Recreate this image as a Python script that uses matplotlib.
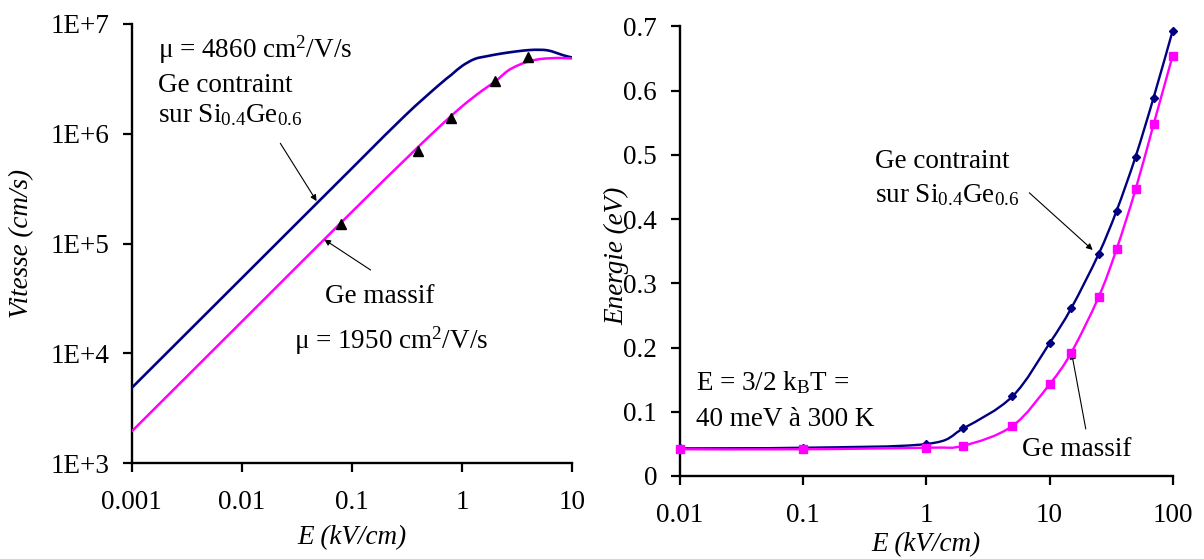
import numpy as np
import matplotlib
matplotlib.use('Agg')
import matplotlib.pyplot as plt
from matplotlib.path import Path
from matplotlib.patches import PathPatch
from matplotlib.ticker import FixedLocator, FixedFormatter, NullLocator

plt.rcParams['font.family'] = ['Liberation Serif', 'DejaVu Serif']
plt.rcParams['mathtext.fontset'] = 'custom'
plt.rcParams['mathtext.rm'] = 'Liberation Serif'
plt.rcParams['mathtext.it'] = 'Liberation Serif:italic'
plt.rcParams['mathtext.bf'] = 'Liberation Serif:bold'

# ---------------- data : left panel (velocity) ----------------
vit_E_contraint = [0.001, 0.01, 0.1, 0.3, 0.6, 0.8, 1.0, 1.3, 1.7, 2.2, 3, 4, 5, 6, 7, 8.5, 10]
vit_v_contraint = [4860, 48600, 486000, 1.45e6, 2.72e6, 3.45e6, 4.15e6, 4.8e6, 5.1e6, 5.35e6,
                   5.6e6, 5.78e6, 5.82e6, 5.75e6, 5.5e6, 5.15e6, 4.95e6]
vit_E_massif = [0.001, 0.01, 0.1, 0.3, 0.6, 1.0, 1.5, 2.0, 2.6, 3.3, 4, 5, 6.5, 8, 10]
vit_v_massif = [1950, 19500, 195000, 5.75e5, 1.12e6, 1.78e6, 2.45e6, 3.0e6, 3.75e6, 4.25e6,
                4.55e6, 4.78e6, 4.88e6, 4.9e6, 4.85e6]
vit_E_points = [0.08, 0.4, 0.8, 2, 4]
vit_v_points = [1.5e5, 7.0e5, 1.4e6, 3.0e6, 5.0e6]
vit_xticks = [0.001, 0.01, 0.1, 1, 10]
vit_xticklabels = ['0.001', '0.01', '0.1', '1', '10']
vit_yticks = [1e3, 1e4, 1e5, 1e6, 1e7]
vit_yticklabels = ['1E+3', '1E+4', '1E+5', '1E+6', '1E+7']

# ---------------- data : right panel (energy) ----------------
en_E = [0.01, 0.1, 1, 2, 5, 10, 15, 25, 35, 50, 70, 100]
en_contraint = [0.043, 0.044, 0.0498, 0.0743, 0.124, 0.2067, 0.2612, 0.3453, 0.4128, 0.4974, 0.5893, 0.6936]
en_massif = [0.0416, 0.0416, 0.0441, 0.0472, 0.0779, 0.1428, 0.192, 0.2783, 0.3531, 0.4466, 0.5478, 0.6547]
en_xticks = [0.01, 0.1, 1, 10, 100]
en_xticklabels = ['0.01', '0.1', '1', '10', '100']
en_yticks = [0, 0.1, 0.2, 0.3, 0.4, 0.5, 0.6, 0.7]
en_yticklabels = ['0', '0.1', '0.2', '0.3', '0.4', '0.5', '0.6', '0.7']

NAVY = '#000080'
MAGENTA = '#FF00FF'
FS = 19.5


def smooth_path(xs, ys, logy=False):
    """Catmull-Rom (Excel-like) smoothing in screen-linear space, as Bezier path."""
    u = np.log10(np.asarray(xs, float))
    y = np.asarray(ys, float)
    if logy:
        y = np.log10(y)
    P = np.column_stack([u, y])
    n = len(P)
    verts = [P[0]]
    codes = [Path.MOVETO]
    for i in range(n - 1):
        p0 = P[i - 1] if i > 0 else P[i]
        p1 = P[i]
        p2 = P[i + 1]
        p3 = P[i + 2] if i + 2 < n else P[i + 1]
        verts += [p1 + (p2 - p0) / 6.0, p2 - (p3 - p1) / 6.0, p2]
        codes += [Path.CURVE4] * 3
    V = np.array(verts)
    V[:, 0] = 10 ** V[:, 0]
    if logy:
        V[:, 1] = 10 ** V[:, 1]
    return Path(V, codes)


def style_axes(ax, pad_x, pad_y):
    for s in ['top', 'right']:
        ax.spines[s].set_visible(False)
    for s in ['left', 'bottom']:
        ax.spines[s].set_linewidth(1.7)
    ax.tick_params(which='major', direction='out', length=6.5, width=1.6,
                   labelsize=FS, colors='black')
    ax.tick_params(axis='x', pad=pad_x)
    ax.tick_params(axis='y', pad=pad_y)
    ax.xaxis.set_minor_locator(NullLocator())
    ax.yaxis.set_minor_locator(NullLocator())


fig = plt.figure(figsize=(12.04, 5.59), dpi=100)

# ================= left panel =================
ax1 = fig.add_axes([0.1094, 0.1712, 0.3659, 0.7859])
ax1.set_xscale('log')
ax1.set_yscale('log')
ax1.set_xlim(0.001, 10)
ax1.set_ylim(1e3, 1e7)
ax1.add_patch(PathPatch(smooth_path(vit_E_contraint, vit_v_contraint, logy=True),
                        fill=False, edgecolor=NAVY, lw=1.9, transform=ax1.transData,
                        zorder=3, capstyle='butt'))
ax1.add_patch(PathPatch(smooth_path(vit_E_massif, vit_v_massif, logy=True),
                        fill=False, edgecolor=MAGENTA, lw=1.8, transform=ax1.transData,
                        zorder=3, capstyle='butt'))
ax1.plot(vit_E_points, vit_v_points, linestyle='none', marker='^', ms=7.5,
         color='black', zorder=4)
ax1.xaxis.set_major_locator(FixedLocator(vit_xticks))
ax1.xaxis.set_major_formatter(FixedFormatter(vit_xticklabels))
ax1.yaxis.set_major_locator(FixedLocator(vit_yticks))
ax1.yaxis.set_major_formatter(FixedFormatter(vit_yticklabels))
style_axes(ax1, pad_x=13, pad_y=9.5)
ax1.set_xlabel('E (kV/cm)', fontsize=FS, style='italic')
ax1.set_ylabel('Vitesse (cm/s)', fontsize=FS, style='italic')
ax1.xaxis.set_label_coords(0.5, -0.14)
ax1.yaxis.set_label_coords(-0.222, 0.5)

tkw = dict(fontsize=FS, transform=ax1.transAxes, ha='left', va='baseline')
ax1.text(0.0604, 0.9242, r'μ = 4860 cm$^{2}$/V/s', **tkw)
ax1.text(0.0604, 0.8459, 'Ge contraint', **tkw)
ax1.text(0.0604, 0.7776, r'sur Si$_{0.4}$Ge$_{0.6}$', **tkw)
ax1.text(0.4377, 0.3642, 'Ge massif', **tkw)
ax1.text(0.368, 0.2618, r'μ = 1950 cm$^{2}$/V/s', **tkw)

akw = dict(arrowstyle='-|>', lw=0.8, color='black', mutation_scale=9,
           shrinkA=0, shrinkB=0)
ax1.annotate('', xy=(0.0477, 2.44e5), xycoords='data',
             xytext=(0.3373, 0.7284), textcoords='axes fraction', arrowprops=akw)
ax1.annotate('', xy=(0.056, 1.09e5), xycoords='data',
             xytext=(0.5423, 0.44), textcoords='axes fraction', arrowprops=akw)

# ================= right panel =================
ax2 = fig.add_axes([0.5648, 0.1485, 0.4092, 0.8041])
ax2.set_xscale('log')
ax2.set_xlim(0.01, 100)
ax2.set_ylim(0, 0.7)
ax2.add_patch(PathPatch(smooth_path(en_E, en_contraint), fill=False, edgecolor=NAVY,
                        lw=1.7, transform=ax2.transData, zorder=3))
ax2.add_patch(PathPatch(smooth_path(en_E, en_massif), fill=False, edgecolor=MAGENTA,
                        lw=1.7, transform=ax2.transData, zorder=3))
ax2.plot(en_E, en_contraint, linestyle='none', marker='D', ms=4.3, color=NAVY,
         zorder=4, clip_on=False)
ax2.plot(en_E, en_massif, linestyle='none', marker='s', ms=6, color=MAGENTA,
         zorder=5, clip_on=False)
ax2.xaxis.set_major_locator(FixedLocator(en_xticks))
ax2.xaxis.set_major_formatter(FixedFormatter(en_xticklabels))
ax2.yaxis.set_major_locator(FixedLocator(en_yticks))
ax2.yaxis.set_major_formatter(FixedFormatter(en_yticklabels))
style_axes(ax2, pad_x=13, pad_y=10)
ax2.set_xlabel('E (kV/cm)', fontsize=FS, style='italic')
ax2.set_ylabel('Energie (eV)', fontsize=FS, style='italic')
ax2.xaxis.set_label_coords(0.5, -0.124)
ax2.yaxis.set_label_coords(-0.1035, 0.489)

tkw2 = dict(fontsize=FS, transform=ax2.transAxes, ha='left', va='baseline')
ax2.text(0.395, 0.686, 'Ge contraint', **tkw2)
ax2.text(0.395, 0.609, r'sur Si$_{0.4}$Ge$_{0.6}$', **tkw2)
ax2.text(0.0325, 0.191, r'E = 3/2 k$_{\mathrm{B}}$T =', **tkw2)
ax2.text(0.0325, 0.112, '40 meV à 300 K', **tkw2)
ax2.text(0.695, 0.045, 'Ge massif', **tkw2)

ax2.annotate('', xy=(22.4, 0.352), xycoords='data',
             xytext=(0.709, 0.630), textcoords='axes fraction', arrowprops=akw)
ax2.annotate('', xy=(15.1, 0.192), xycoords='data',
             xytext=(0.8236, 0.1046), textcoords='axes fraction', arrowprops=akw)

fig.savefig('out.png', dpi=100, facecolor='white')
